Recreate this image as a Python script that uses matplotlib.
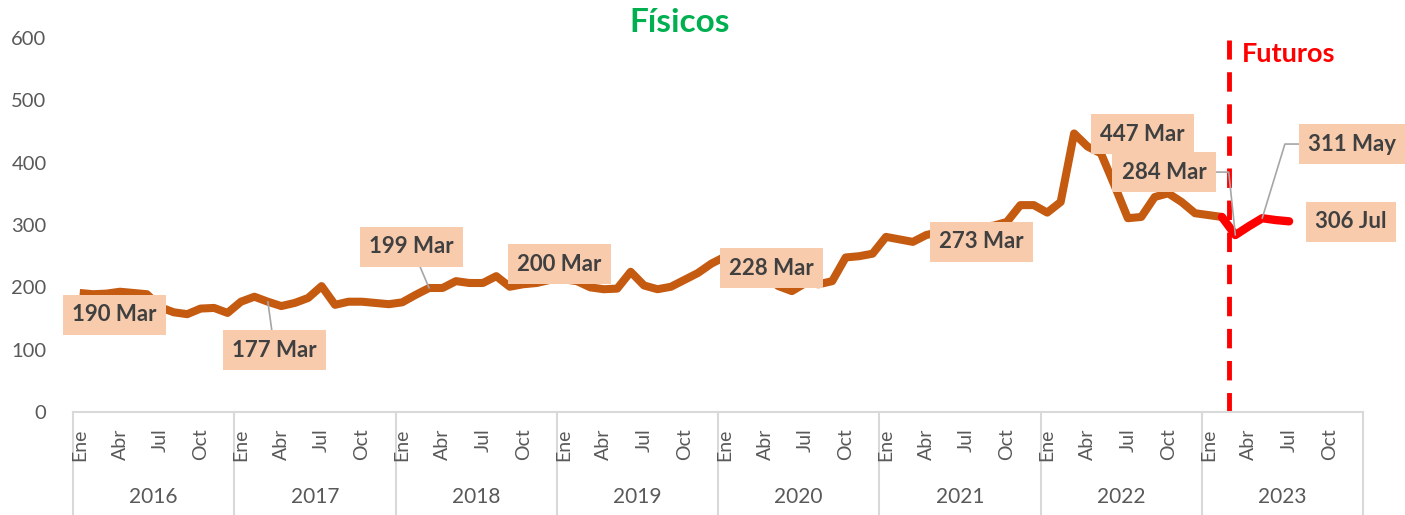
import matplotlib.pyplot as plt
from matplotlib import transforms

plt.rcParams['font.family'] = ['Lato', 'DejaVu Sans']

# monthly data, Ene 2016 .. Feb 2023 (physical) and Feb 2023 .. Jul 2023 (futures)
years = ['2016', '2017', '2018', '2019', '2020', '2021', '2022', '2023']
month_labels = ['Ene', 'Abr', 'Jul', 'Oct']
fisicos = [191, 189, 190, 193, 191, 189, 168, 160, 157, 166, 167, 159,
           177, 185, 177, 170, 175, 183, 202, 172, 177, 177, 175, 173,
           176, 188, 199, 199, 210, 207, 207, 218, 201, 205, 207, 212,
           213, 210, 200, 197, 198, 225, 203, 197, 201, 212, 223, 238,
           249, 240, 228, 220, 202, 194, 207, 205, 210, 248, 250, 254,
           281, 277, 273, 284, 289, 292, 295, 297, 299, 305, 332, 332,
           320, 337, 447, 426, 415, 364, 311, 313, 345, 351, 337, 319,
           316, 313]
futuros = [313, 284, 298, 311, 308, 306]
fut_start = 85  # Feb 2023

# data labels: (text, point index, value, label x, label y, leader connection)
labels = [
    ('190 Mar', 2, 190, 2.6, 156, None),
    ('177 Mar', 14, 177, 14.5, 99, 'arc3'),
    ('199 Mar', 26, 199, 24.7, 265, 'arc3'),
    ('200 Mar', 38, 200, 35.7, 237, None),
    ('228 Mar', 50, 228, 51.5, 231, None),
    ('273 Mar', 62, 273, 67.1, 273, None),
    ('447 Mar', 74, 447, 79.1, 446, None),
    ('284 Mar', 86, 284, 80.7, 385, 'angle,angleA=0,angleB=96,rad=0'),
    ('311 May', 88, 311, 94.7, 430, 'angle,angleA=0,angleB=73,rad=0'),
    ('306 Jul', 90, 306, 94.6, 305, None),
]

fig = plt.figure(figsize=(14.05, 5.15), dpi=100)
ax = fig.add_axes([73 / 1405, 0.2, (1363 - 73) / 1405, 0.726])

ax.plot(range(len(fisicos)), fisicos, color='#C55A11', lw=5.8,
        solid_joinstyle='round', solid_capstyle='butt', zorder=3)
ax.plot(range(fut_start, fut_start + len(futuros)), futuros, color='#FF0000', lw=6,
        solid_joinstyle='round', solid_capstyle='round', zorder=4)

# dashed separator between physical and futures
ax.plot([85.5, 85.5], [0, 597], color='#FF0000', lw=3.5, dashes=(4, 2.6), zorder=2)
ax.text(86.5, 575, 'Futuros', color='#FF0000', fontsize=19.5, fontweight='bold',
        va='center', ha='left')

for txt, i, v, tx, ty, conn in labels:
    arrow = None
    if conn:
        arrow = dict(arrowstyle='-', color='#A6A6A6', lw=1.2, shrinkA=0,
                     shrinkB=0, connectionstyle=conn)
    ax.annotate(txt, xy=(i, v), xytext=(tx, ty), ha='center', va='center',
                fontsize=16, fontweight='bold', color='#404040', zorder=5,
                bbox=dict(boxstyle='square,pad=0.42', fc='#F8CBAD', ec='none'),
                arrowprops=arrow)

ax.set_xlim(-0.5, 12 * len(years) - 0.5)
ax.set_ylim(0, 600)
ax.set_yticks(range(0, 601, 100))
ax.tick_params(axis='y', length=0, labelsize=14.5, labelcolor='#595959', pad=19)

ticks = [12 * k + m for k in range(len(years)) for m in (0, 3, 6, 9)]
ax.set_xticks(ticks)
ax.set_xticklabels(month_labels * len(years), rotation=90)
ax.tick_params(axis='x', length=0, labelsize=14, labelcolor='#595959', pad=12)

for s in ['top', 'right', 'left']:
    ax.spines[s].set_visible(False)
ax.spines['bottom'].set_color('#D9D9D9')
ax.spines['bottom'].set_linewidth(1.5)

trans = transforms.blended_transform_factory(ax.transData, ax.transAxes)
for k in range(len(years) + 1):
    ax.plot([12 * k - 0.5, 12 * k - 0.5], [0, -0.3], transform=trans,
            color='#D9D9D9', lw=1.5, clip_on=False, zorder=0)
for k, yr in enumerate(years):
    ax.text(12 * k + 5.5, -0.228, yr, transform=trans, ha='center', va='center',
            fontsize=15, color='#595959')

fig.text(680 / 1405, 1 - 22 / 515, 'Físicos', color='#00B050', fontsize=24,
         fontweight='bold', ha='center', va='center')

fig.savefig('out.png', dpi=100)
